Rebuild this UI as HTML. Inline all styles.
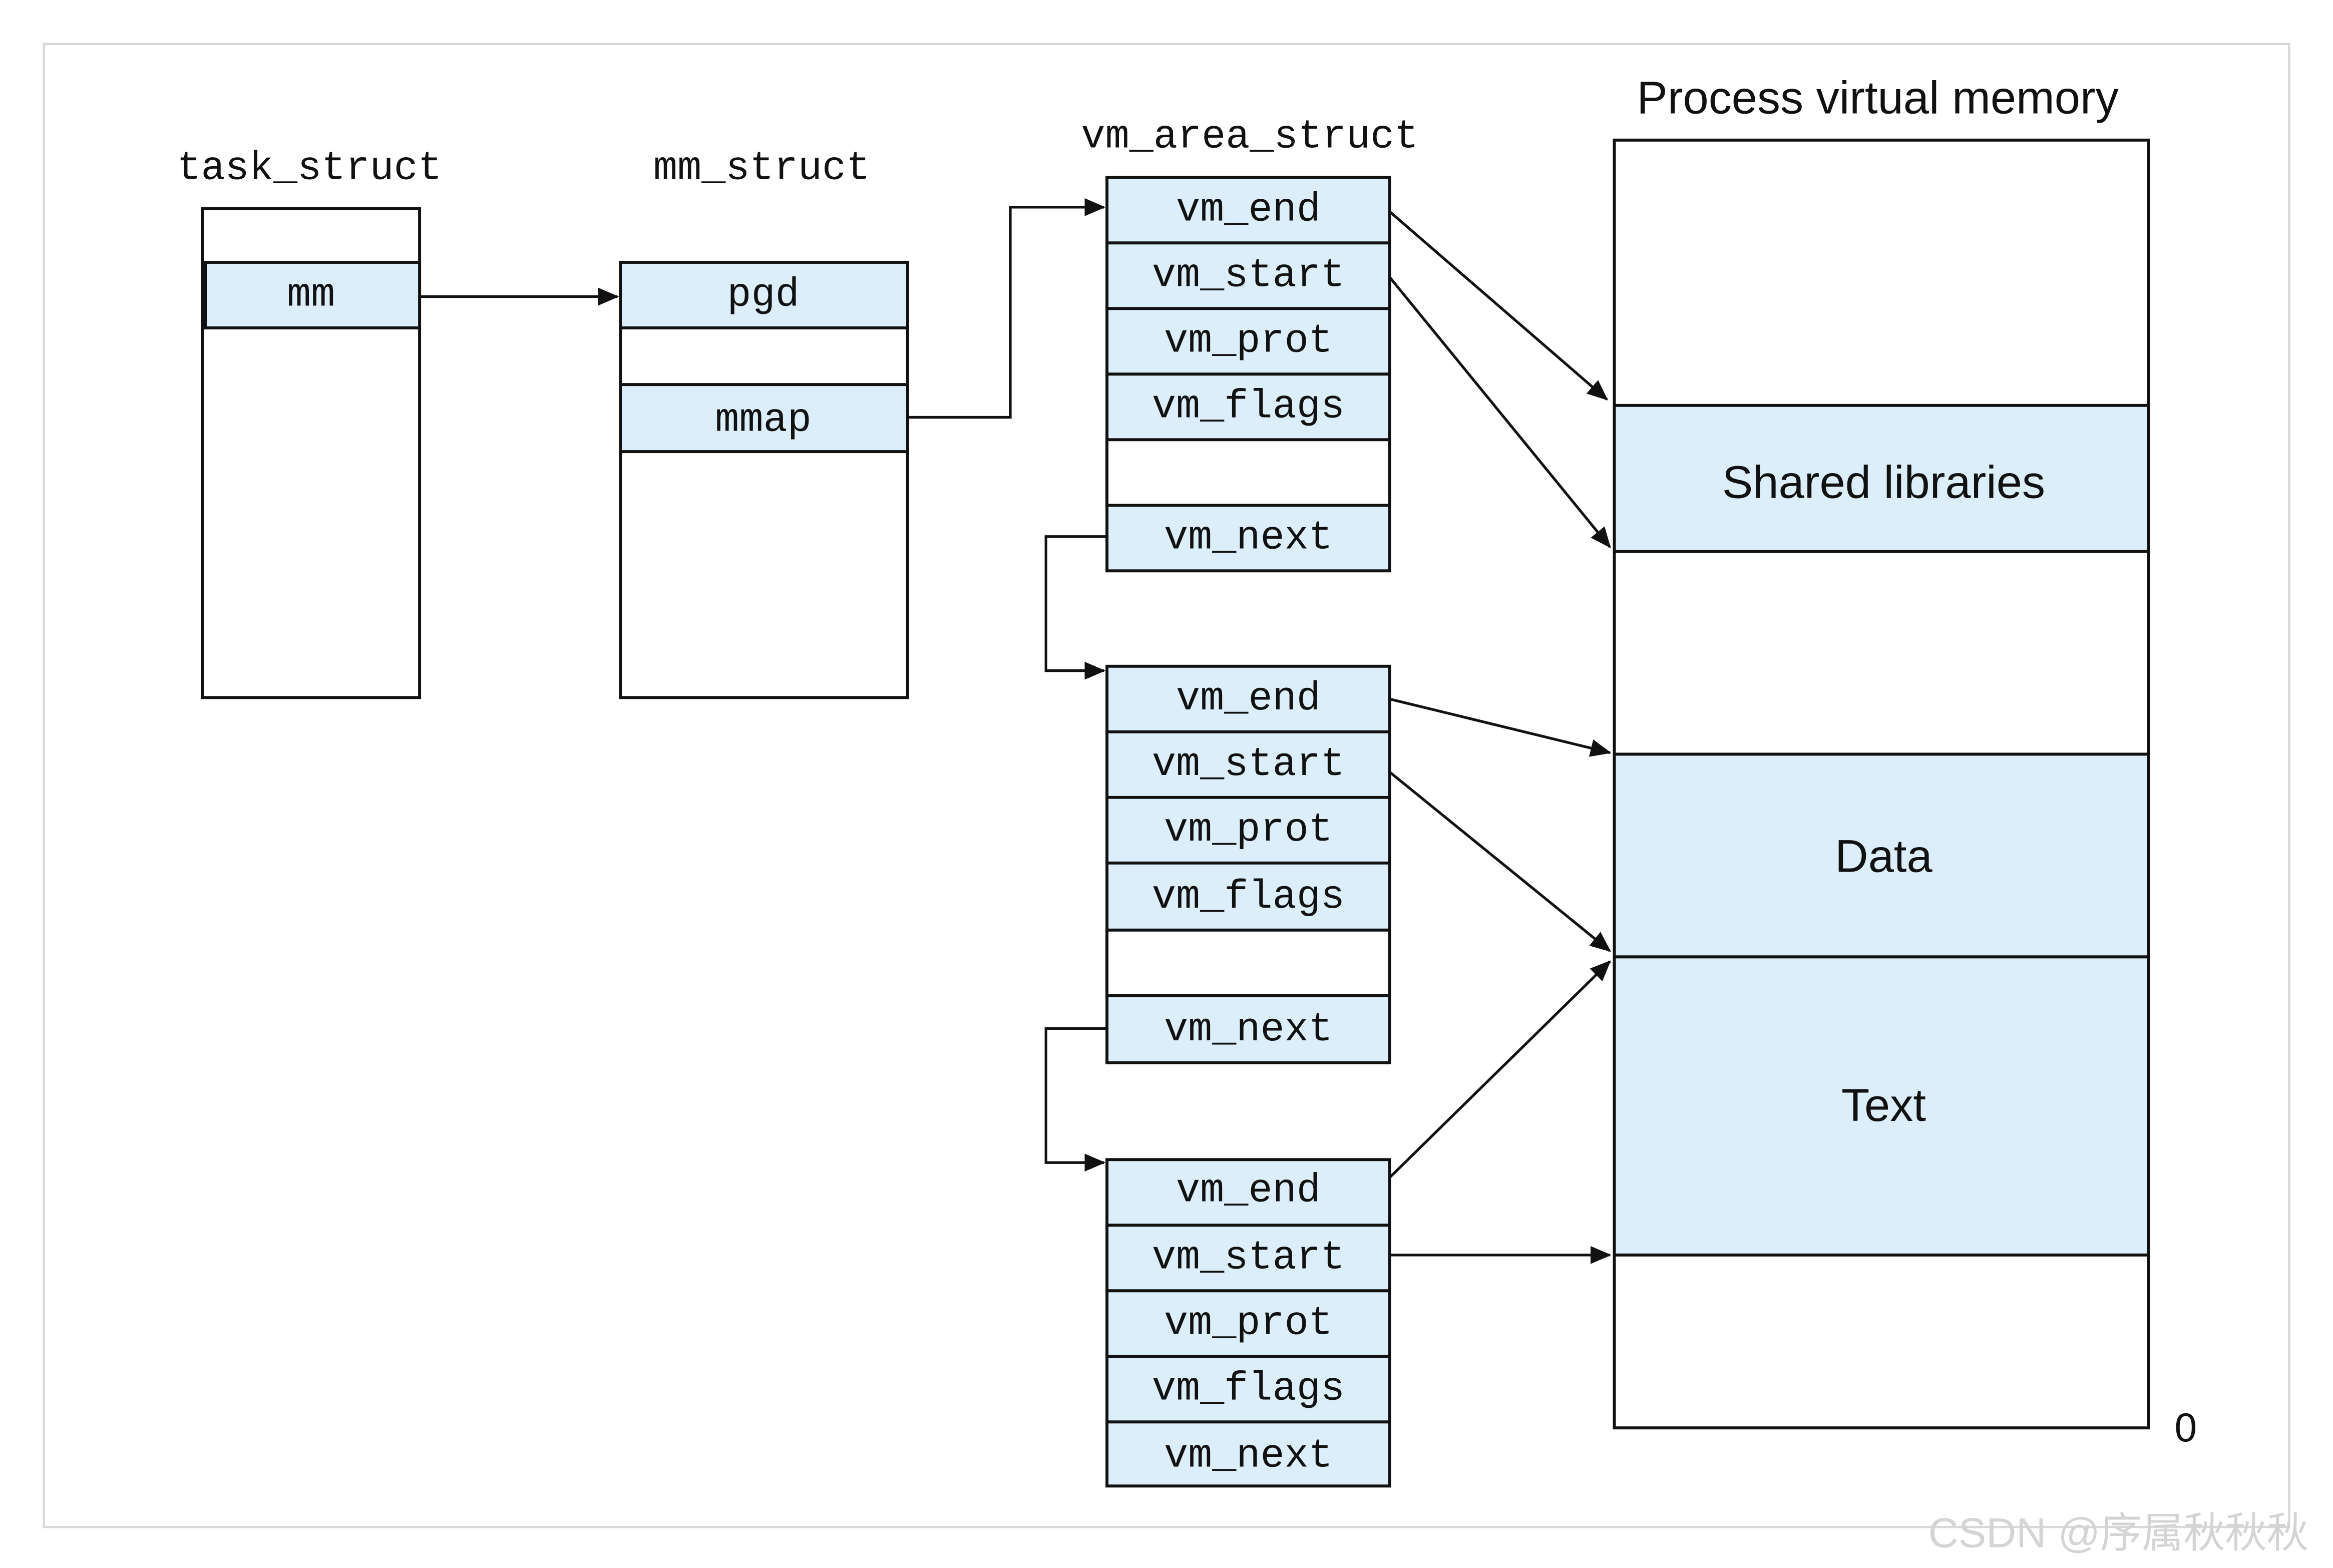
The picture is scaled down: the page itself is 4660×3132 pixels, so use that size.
<!DOCTYPE html>
<html><head><meta charset="utf-8"><style>
html,body{margin:0;padding:0;background:#fff;}
svg{display:block;}
.m{font-family:"Liberation Mono","DejaVu Sans Mono",monospace;font-size:27px;fill:#111;text-anchor:middle;}
.s{font-family:"Liberation Sans",sans-serif;font-size:31px;fill:#111;text-anchor:middle;}
</style></head><body>
<svg width="4660" height="3132" viewBox="0 0 1568 1052" preserveAspectRatio="none" xmlns="http://www.w3.org/2000/svg">
<defs><marker id="a" markerWidth="10" markerHeight="10" refX="9" refY="5" orient="auto" markerUnits="userSpaceOnUse"><path d="M0,0 L10,5 L0,10 Z" fill="#111"/></marker>
<marker id="b" markerWidth="14" markerHeight="12" refX="13" refY="6" orient="auto" markerUnits="userSpaceOnUse"><path d="M0,0 L14,6 L0,12 Z" fill="#111"/></marker></defs>
<rect x="29.5" y="29.5" width="1509" height="995" fill="#fff" stroke="#d8d8d8" stroke-width="1.5"/>
<g stroke="#111" stroke-width="2" fill="none">
<!-- task_struct -->
<rect x="136" y="140" width="146" height="328" fill="#fff"/>
<rect x="138" y="176" width="144" height="44" fill="#dbeefa"/>
<!-- mm_struct -->
<rect x="417" y="176" width="193" height="292" fill="#fff"/>
<rect x="417" y="176" width="193" height="44" fill="#dbeefa"/>
<rect x="417" y="258" width="193" height="45" fill="#dbeefa"/>
<!-- vm box1 -->
<rect x="744" y="119" width="190" height="264" fill="#dbeefa"/>
<rect x="744" y="295" width="190" height="44" fill="#fff"/>
<path d="M744 163H934M744 207H934M744 251H934"/>
<!-- vm box2 -->
<rect x="744" y="447" width="190" height="266" fill="#dbeefa"/>
<rect x="744" y="624" width="190" height="44" fill="#fff"/>
<path d="M744 491H934M744 535H934M744 579H934"/>
<!-- vm box3 -->
<rect x="744" y="778" width="190" height="219" fill="#dbeefa"/>
<path d="M744 822H934M744 866H934M744 910H934M744 954H934"/>
<!-- process vm -->
<rect x="1085" y="94" width="359" height="864" fill="#fff"/>
<rect x="1085" y="272" width="359" height="98" fill="#dbeefa"/>
<rect x="1085" y="506" width="359" height="136" fill="#dbeefa"/>
<rect x="1085" y="642" width="359" height="200" fill="#dbeefa"/>
</g>
<g stroke="#111" stroke-width="1.8" fill="none">
<path d="M282 199H415" marker-end="url(#b)"/>
<path d="M610 280H679V139H742" marker-end="url(#b)"/>
<path d="M744 360H703V450H742" marker-end="url(#b)"/>
<path d="M744 690H703V780H742" marker-end="url(#b)"/>
<path d="M934 142L1080 268" marker-end="url(#b)"/>
<path d="M934 186L1082 367" marker-end="url(#b)"/>
<path d="M934 469L1082 505" marker-end="url(#b)"/>
<path d="M934 518L1082 638" marker-end="url(#b)"/>
<path d="M934 790L1082 645" marker-end="url(#b)"/>
<path d="M934 842H1082" marker-end="url(#b)"/>
</g>
<text class="m" x="208" y="120">task_struct</text>
<text class="m" x="512" y="120">mm_struct</text>
<text class="m" x="840" y="99">vm_area_struct</text>
<text class="m" x="209" y="205">mm</text>
<text class="m" x="513" y="205">pgd</text>
<text class="m" x="513" y="289">mmap</text>
<g class="m">
<text class="m" x="839" y="148">vm_end</text><text class="m" x="839" y="192">vm_start</text><text class="m" x="839" y="236">vm_prot</text><text class="m" x="839" y="280">vm_flags</text><text class="m" x="839" y="368">vm_next</text>
<text class="m" x="839" y="476">vm_end</text><text class="m" x="839" y="520">vm_start</text><text class="m" x="839" y="564">vm_prot</text><text class="m" x="839" y="609">vm_flags</text><text class="m" x="839" y="698">vm_next</text>
<text class="m" x="839" y="806">vm_end</text><text class="m" x="839" y="851">vm_start</text><text class="m" x="839" y="895">vm_prot</text><text class="m" x="839" y="939">vm_flags</text><text class="m" x="839" y="984">vm_next</text>
</g>
<text class="s" x="1262" y="76">Process virtual memory</text>
<text class="s" x="1266" y="334">Shared libraries</text>
<text class="s" x="1266" y="585">Data</text>
<text class="s" x="1266" y="752">Text</text>
<text class="s" x="1469" y="967" style="font-size:27px">0</text>
<text x="1296" y="1038" style="font-family:'Liberation Sans','Noto Sans CJK SC',sans-serif;font-size:28px;fill:#d4d4d4">CSDN @序属秋秋秋</text>
</svg>
</body></html>
